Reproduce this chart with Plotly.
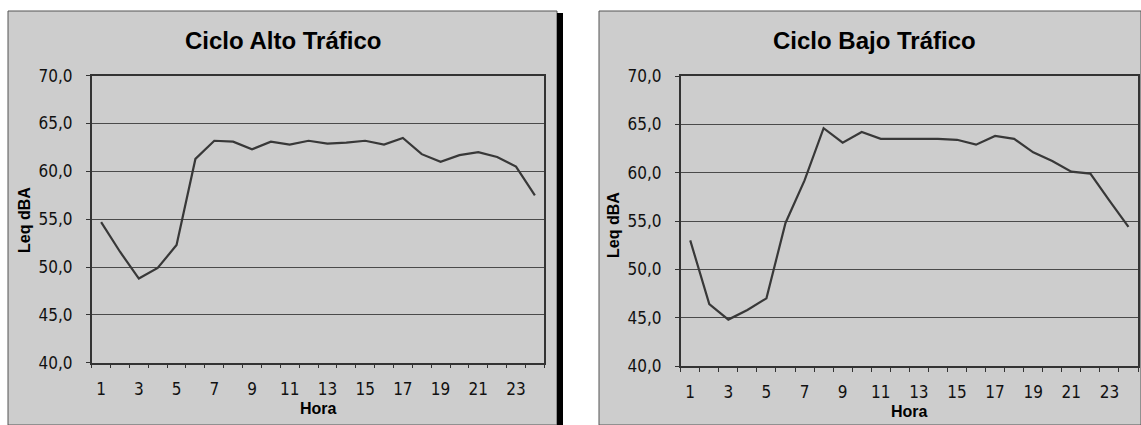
import plotly.graph_objects as go

# Hourly equivalent sound level (Leq, dBA) for the two traffic cycles
horas = list(range(1, 25))
leq_alto = [54.7, 51.6, 48.8, 49.9, 52.3, 61.3, 63.2, 63.1, 62.3, 63.1, 62.8, 63.2,
            62.9, 63.0, 63.2, 62.8, 63.5, 61.8, 61.0, 61.7, 62.0, 61.5, 60.5, 57.5]
leq_bajo = [53.0, 46.4, 44.8, 45.8, 47.0, 54.8, 59.2, 64.6, 63.1, 64.2, 63.5, 63.5,
            63.5, 63.5, 63.4, 62.9, 63.8, 63.5, 62.1, 61.2, 60.1, 59.9, 57.1, 54.4]

y_ticks = [40, 45, 50, 55, 60, 65, 70]
y_tick_labels = ["40,0", "45,0", "50,0", "55,0", "60,0", "65,0", "70,0"]
x_ticks = [1, 3, 5, 7, 9, 11, 13, 15, 17, 19, 21, 23]
x_tick_labels = [str(h) for h in x_ticks]

titulos = ["Ciclo Alto Tráfico", "Ciclo Bajo Tráfico"]

W, H = 1141, 425


def fx(px):
    return px / W


def fy(py):
    return 1 - py / H


SCAN_GRAY = "#cdcdcd"
LINE_COL = "#383838"
GRID_COL = "#4a4a4a"
TICK_FONT = dict(family="DejaVu Sans Condensed, DejaVu Sans, sans-serif", size=17, color="#111111")
BOLD_FONT = "Liberation Sans, Arial, sans-serif"

fig = go.Figure()
fig.add_trace(go.Scatter(x=horas, y=leq_alto, mode="lines", xaxis="x", yaxis="y",
                         line=dict(color=LINE_COL, width=2.2), showlegend=False))
fig.add_trace(go.Scatter(x=horas, y=leq_bajo, mode="lines", xaxis="x2", yaxis="y2",
                         line=dict(color=LINE_COL, width=2.2), showlegend=False))


def x_axis(domain, anchor):
    return dict(
        domain=domain, anchor=anchor, range=[0.5, 24.5], automargin=False,
        tickmode="array", tickvals=x_ticks, ticktext=x_tick_labels,
        ticks="", tickfont=TICK_FONT, ticklabelstandoff=10,
        showgrid=False, zeroline=False,
        showline=True, linecolor="#333333", linewidth=1.5, mirror=True,
        minor=dict(tickmode="array", tickvals=[h + 0.5 for h in range(0, 25)],
                   ticks="outside", ticklen=4, tickcolor="#333333", showgrid=False),
    )


def y_axis(domain, anchor):
    return dict(
        domain=domain, anchor=anchor, range=[40, 70], automargin=False,
        tickmode="array", tickvals=y_ticks, ticktext=y_tick_labels,
        ticks="outside", ticklen=4, tickcolor="#333333", tickfont=TICK_FONT,
        ticklabelstandoff=10,
        showgrid=True, gridcolor=GRID_COL, gridwidth=1, zeroline=False,
        showline=True, linecolor="#333333", linewidth=1.5, mirror=True,
    )


shapes = [
    # left chart frame
    dict(type="rect", xref="paper", yref="paper", layer="below",
         x0=fx(8), x1=fx(557), y0=0, y1=fy(11),
         fillcolor=SCAN_GRAY, line=dict(color="#555555", width=1)),
    # heavy right edge of left frame
    dict(type="rect", xref="paper", yref="paper", layer="below",
         x0=fx(557), x1=fx(563), y0=0, y1=fy(13),
         fillcolor="#000000", line=dict(width=0)),
    # right chart frame
    dict(type="rect", xref="paper", yref="paper", layer="below",
         x0=fx(599), x1=1, y0=0, y1=fy(11),
         fillcolor=SCAN_GRAY, line=dict(color="#555555", width=1)),
]

annotations = []
for cx, txt in [(283, titulos[0]), (874, titulos[1])]:
    annotations.append(dict(xref="paper", yref="paper", x=fx(cx), y=fy(41),
                            text=f"<b>{txt}</b>", showarrow=False,
                            xanchor="center", yanchor="middle",
                            font=dict(family=BOLD_FONT, size=24, color="#000000")))
for cx, cy in [(24, 220), (613, 225)]:
    annotations.append(dict(xref="paper", yref="paper", x=fx(cx), y=fy(cy),
                            text="<b>Leq dBA</b>", showarrow=False, textangle=-90,
                            xanchor="center", yanchor="middle",
                            font=dict(family=BOLD_FONT, size=16, color="#000000")))
for cx, cy in [(318, 408), (909, 411)]:
    annotations.append(dict(xref="paper", yref="paper", x=fx(cx), y=fy(cy),
                            text="<b>Hora</b>", showarrow=False,
                            xanchor="center", yanchor="middle",
                            font=dict(family=BOLD_FONT, size=16, color="#000000")))

fig.update_layout(
    width=W, height=H,
    margin=dict(l=0, r=0, t=0, b=0, autoexpand=False),
    paper_bgcolor="#ffffff", plot_bgcolor="rgba(0,0,0,0)",
    xaxis=x_axis([fx(91.7), fx(544.3)], "y"),
    yaxis=y_axis([fy(362.7), fy(75.7)], "x"),
    xaxis2=x_axis([fx(680.7), fx(1138)], "y2"),
    yaxis2=y_axis([fy(366), fy(76)], "x2"),
    shapes=shapes, annotations=annotations,
)

fig.write_html("out.html")
